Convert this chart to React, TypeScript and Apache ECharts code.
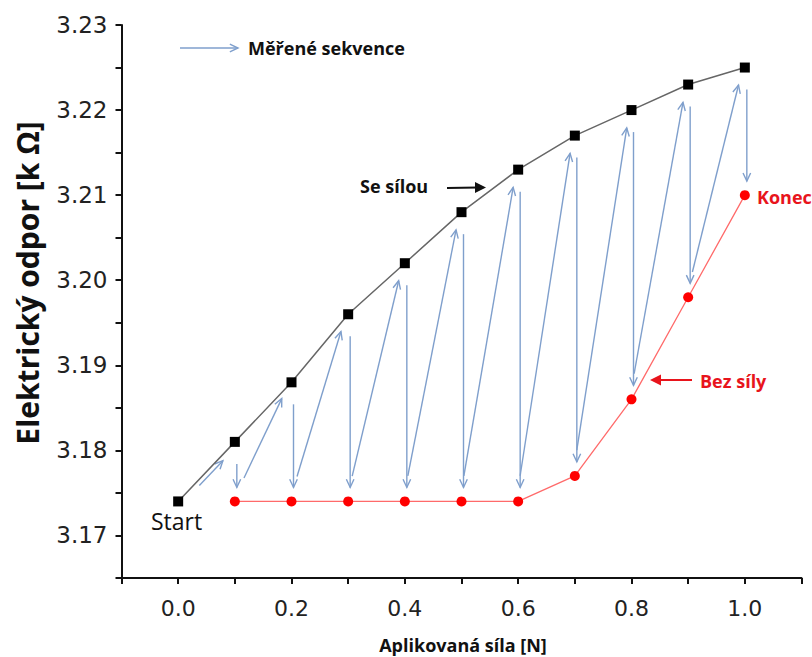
import React, { useEffect, useRef } from "react";
import * as echarts from "echarts";

const forceX = [0.0, 0.1, 0.2, 0.3, 0.4, 0.5, 0.6, 0.7, 0.8, 0.9, 1.0];
const withForce = [3.174, 3.181, 3.188, 3.196, 3.202, 3.208, 3.213, 3.217, 3.22, 3.223, 3.225];
const noForceX = [0.1, 0.2, 0.3, 0.4, 0.5, 0.6, 0.7, 0.8, 0.9, 1.0];
const noForce = [3.174, 3.174, 3.174, 3.174, 3.174, 3.174, 3.177, 3.186, 3.198, 3.21];

const xMin = -0.1, xMax = 1.1, xStep = 0.1;
const yMin = 3.165, yMax = 3.23, yStep = 0.005;

const ARROW = "#7f9fcc";
const RED = "#e8141c";
const TXT_FONT = "'Open Sans', Lato, sans-serif";
const TICK_FONT = "'DejaVu Sans', 'Liberation Sans', sans-serif";

// measured sequence: start -> 0.1 with force, then down to no force, up to next with force ...
function buildSequence() {
  const seq: number[][] = [];
  seq.push([forceX[0], withForce[0], forceX[1], withForce[1], 0]);
  for (let i = 0; i < noForceX.length; i++) {
    seq.push([forceX[i + 1], withForce[i + 1], noForceX[i], noForce[i], 1]);
    if (i + 2 < forceX.length) {
      seq.push([noForceX[i], noForce[i], forceX[i + 2], withForce[i + 2], 2]);
    }
  }
  return seq;
}
const sequence = buildSequence();

function chevron(x: number, y: number, ux: number, uy: number, len: number) {
  const a = (25 * Math.PI) / 180;
  const bx = -ux, by = -uy;
  const c = Math.cos(a), s = Math.sin(a);
  const l1 = [x + len * (bx * c - by * s), y + len * (bx * s + by * c)];
  const l2 = [x + len * (bx * c + by * s), y + len * (-bx * s + by * c)];
  return [l1, [x, y], l2];
}

function label(text: string, x: number, y: number, font: string, fill: string) {
  return {
    type: "text",
    x,
    y,
    style: { text, font, fill, align: "left", verticalAlign: "middle" },
  };
}

export default function App() {
  const ref = useRef<HTMLDivElement>(null);
  useEffect(() => {
    document.body.style.margin = "0";
    const chart = echarts.init(ref.current!, null, { renderer: "svg" });
    const gaps: Record<number, [number, number, number]> = {
      0: [22, 26, 6],
      1: [22, 14, 2],
      2: [26, 18, -2],
    };
    const option: any = {
      animation: false,
      backgroundColor: "#ffffff",
      grid: { left: 121.5, right: 10.5, top: 25, bottom: 79 },
      xAxis: {
        type: "value",
        min: xMin,
        max: xMax,
        interval: xStep,
        splitLine: { show: false },
        axisLine: { onZero: false, lineStyle: { color: "#111", width: 2 } },
        axisTick: { show: true, length: 6, inside: false, lineStyle: { color: "#111", width: 2 } },
        axisLabel: {
          margin: 19,
          fontFamily: TICK_FONT,
          fontSize: 22,
          color: "#222",
          formatter: (v: number) => {
            const k = Math.round(v * 10);
            if (k % 2 !== 0 || k < 0 || k > 10) return "";
            return (k / 10).toFixed(1);
          },
        },
      },
      yAxis: {
        type: "value",
        min: yMin,
        max: yMax,
        interval: yStep,
        splitLine: { show: false },
        axisLine: { onZero: false, lineStyle: { color: "#111", width: 2 } },
        axisTick: { show: true, length: 6, lineStyle: { color: "#111", width: 2 } },
        axisLabel: {
          margin: 14,
          fontFamily: TICK_FONT,
          fontSize: 23,
          color: "#222",
          formatter: (v: number) => {
            const k = Math.round(v * 1000);
            if (k % 10 !== 0) return "";
            return (k / 1000).toFixed(2);
          },
        },
      },
      series: [
        {
          name: "Se sílou",
          type: "line",
          data: forceX.map((x, i) => [x, withForce[i]]),
          symbol: "rect",
          symbolSize: 10,
          lineStyle: { color: "#666", width: 1.5 },
          itemStyle: { color: "#000" },
          z: 3,
        },
        {
          name: "Bez síly",
          type: "line",
          data: noForceX.map((x, i) => [x, noForce[i]]),
          symbol: "circle",
          symbolSize: 10,
          lineStyle: { color: "#ff6a6a", width: 1.3 },
          itemStyle: { color: "#ff0000" },
          z: 3,
        },
        {
          name: "Měřené sekvence",
          type: "custom",
          coordinateSystem: "cartesian2d",
          encode: { x: [0, 2], y: [1, 3] },
          data: sequence,
          clip: false,
          z: 2,
          renderItem: (params: any, api: any) => {
            const p1 = api.coord([api.value(0), api.value(1)]);
            const p2 = api.coord([api.value(2), api.value(3)]);
            const kind = api.value(4) as number;
            const [g1, g2, dx] = gaps[kind];
            const vx = p2[0] - p1[0], vy = p2[1] - p1[1];
            const L = Math.sqrt(vx * vx + vy * vy);
            const ux = vx / L, uy = vy / L;
            const sx = p1[0] + ux * g1 + dx, sy = p1[1] + uy * g1;
            const ex = p2[0] - ux * g2 + dx, ey = p2[1] - uy * g2;
            return {
              type: "group",
              children: [
                {
                  type: "line",
                  shape: { x1: sx, y1: sy, x2: ex, y2: ey },
                  style: { stroke: ARROW, lineWidth: 1.4 },
                },
                {
                  type: "polyline",
                  shape: { points: chevron(ex, ey, ux, uy, 9) },
                  style: { stroke: ARROW, lineWidth: 1.4, fill: null },
                },
              ],
            };
          },
        },
      ],
      graphic: [
        { type: "line", shape: { x1: 180, y1: 48, x2: 238, y2: 48 }, style: { stroke: ARROW, lineWidth: 1.4 } },
        { type: "polyline", shape: { points: chevron(238, 48, 1, 0, 9) }, style: { stroke: ARROW, lineWidth: 1.4, fill: null } },
        label("Měřené sekvence", 248, 48, `bold 18px ${TXT_FONT}`, "#111"),
        label("Se sílou", 360, 186, `bold 18px ${TXT_FONT}`, "#111"),
        { type: "line", shape: { x1: 447, y1: 188, x2: 478, y2: 187.5 }, style: { stroke: "#111", lineWidth: 2 } },
        { type: "polygon", shape: { points: [[486, 187.5], [475, 182], [475, 193]] }, style: { fill: "#111" } },
        label("Konec", 757, 197, `bold 18px ${TXT_FONT}`, RED),
        label("Bez síly", 700, 381, `bold 18px ${TXT_FONT}`, RED),
        { type: "line", shape: { x1: 692, y1: 380, x2: 658, y2: 380 }, style: { stroke: RED, lineWidth: 2 } },
        { type: "polygon", shape: { points: [[650, 380], [661, 374.5], [661, 385.5]] }, style: { fill: RED } },
        label("Start", 151, 521, `23px ${TXT_FONT}`, "#111"),
        {
          type: "text",
          x: 27,
          y: 283,
          rotation: Math.PI / 2,
          style: {
            text: "Elektrický odpor [k Ω]",
            font: `bold 30px ${TXT_FONT}`,
            fill: "#111",
            align: "center",
            verticalAlign: "middle",
          },
        },
        {
          type: "text",
          x: 463,
          y: 645,
          style: {
            text: "Aplikovaná síla [N]",
            font: `bold 18px ${TXT_FONT}`,
            fill: "#111",
            align: "center",
            verticalAlign: "middle",
          },
        },
      ],
    };
    chart.setOption(option);
    return () => chart.dispose();
  }, []);
  return (
    <div
      ref={ref}
      style={{ position: "absolute", left: 0, top: 0, width: 812, height: 657 }}
    />
  );
}
